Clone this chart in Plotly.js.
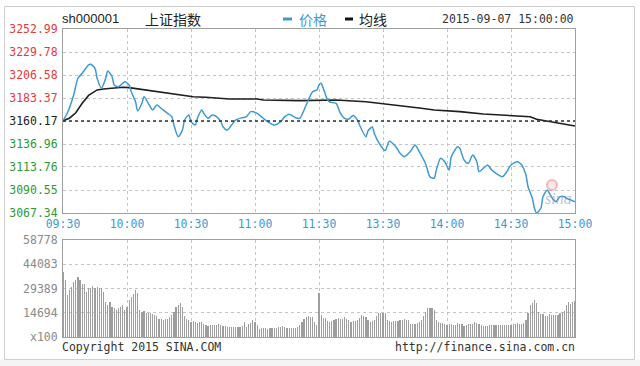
<!DOCTYPE html>
<html>
<head>
<meta charset="utf-8">
<script src="https://cdn.plot.ly/plotly-3.0.1.min.js"></script>
<style>html,body{margin:0;padding:0;background:#fff;}#chart{width:640px;height:366px;}</style>
</head>
<body>
<div id="chart"></div>
<script>
// ---------- data ----------
var prevClose = 3160.17;
var priceTicks = [3252.99, 3229.78, 3206.58, 3183.37, 3160.17, 3136.96, 3113.76, 3090.55, 3067.34];
var pctTicks = ["+2.94%", "+2.20%", "+1.47%", "+0.73%", "0.00%", "-0.73%", "-1.47%", "-2.20%", "-2.94%"];
var volTicks = [0, 14694, 29389, 44083, 58778];
var volTickText = ["x100", "14694", "29389", "44083", "58778"];
var timeTickLabels = ["09:30", "10:00", "10:30", "11:00", "11:30", "13:30", "14:00", "14:30", "15:00"];

var priceTimes = ["09:30","09:32","09:35","09:37","09:39","09:42","09:43","09:45","09:46","09:48","09:50","09:51","09:53","09:54","09:56","09:58","09:59","10:01","10:02","10:04","10:05","10:07","10:08","10:10","10:12","10:14","10:16","10:19","10:21","10:22","10:24","10:26","10:27","10:29","10:30","10:32","10:33","10:35","10:36","10:38","10:40","10:42","10:44","10:45","10:47","10:49","10:51","10:54","10:56","10:58","11:01","11:03","11:06","11:09","11:12","11:14","11:16","11:19","11:21","11:23","11:25","11:27","11:29","11:30","13:01","13:02","13:04","13:05","13:08","13:10","13:12","13:14","13:16","13:18","13:19","13:22","13:23","13:25","13:26","13:29","13:31","13:33","13:36","13:38","13:40","13:43","13:45","13:47","13:50","13:52","13:54","13:55","13:57","13:59","14:01","14:02","14:05","14:06","14:08","14:10","14:12","14:14","14:15","14:17","14:19","14:21","14:23","14:26","14:28","14:30","14:33","14:35","14:37","14:38","14:40","14:41","14:42","14:44","14:45","14:47","14:48","14:50","14:51","14:53","14:55","14:56","14:58","15:00"];
var prices = [3160.5,3168.0,3186.4,3203.3,3208.3,3216.7,3217.4,3213.3,3203.3,3193.2,3203.3,3210.6,3204.9,3196.5,3194.8,3198.2,3199.8,3196.5,3189.7,3179.6,3170.3,3178.0,3184.7,3178.0,3171.3,3176.3,3173.0,3167.9,3164.5,3156.1,3144.3,3151.0,3161.2,3166.2,3159.5,3156.1,3162.9,3171.3,3167.9,3162.9,3166.2,3164.5,3159.5,3154.4,3151.0,3156.1,3161.2,3163.5,3164.5,3169.6,3167.9,3164.5,3159.5,3156.1,3159.5,3164.5,3166.9,3163.5,3162.9,3171.3,3181.4,3189.7,3191.5,3196.5,3198.2,3193.2,3181.4,3179.3,3178.0,3168.2,3162.9,3162.2,3165.7,3161.2,3156.1,3144.3,3150.3,3154.1,3147.1,3135.0,3130.4,3139.7,3134.2,3127.6,3124.2,3129.9,3136.0,3129.2,3116.8,3104.0,3102.4,3110.7,3122.5,3118.8,3110.7,3124.2,3134.2,3132.6,3120.8,3117.5,3125.9,3119.1,3109.0,3112.4,3115.8,3110.7,3107.4,3104.0,3109.0,3115.8,3119.1,3115.8,3105.7,3093.9,3082.2,3072.1,3067.34,3072.1,3083.8,3090.6,3087.2,3080.5,3078.7,3083.8,3083.8,3082.2,3080.5,3078.7];

var avgTimes = ["09:30","09:33","09:36","09:39","09:42","09:46","09:49","09:54","09:58","10:01","10:06","10:12","10:19","10:25","10:31","10:37","10:48","11:01","11:04","11:21","11:30","13:02","13:08","13:22","13:29","13:39","13:48","13:54","14:01","14:06","14:17","14:28","14:39","14:42","14:48","15:00"];
var avgPrices = [3160.5,3163.0,3168.5,3178.0,3186.0,3191.5,3192.5,3193.2,3194.2,3193.8,3192.2,3190.4,3188.1,3186.4,3184.7,3184.1,3182.4,3182.4,3181.4,3180.7,3181.0,3181.4,3181.4,3179.6,3178.0,3175.6,3173.0,3171.3,3170.3,3169.6,3167.2,3166.2,3164.5,3161.9,3159.5,3155.1];

// per-minute volume (x100 lots), 09:30 .. 11:30, 13:01 .. 15:00
var volumes = [39600,34500,25400,28500,30500,33500,34500,36600,34500,31900,
32000,27500,29500,29500,30900,29900,30200,29900,29500,27000,
21400,19400,21400,18400,17400,16400,17800,18400,19400,16400,
17900,22400,24400,26000,28500,26500,16400,15400,15800,14700,
14300,14600,13900,13200,12700,10700,10900,10300,10700,11000,
11900,13500,15400,18400,19600,20800,18400,12700,11200,10300,
9300,9600,9300,8700,9000,9300,7900,7300,6700,7300,
7000,7300,7300,7600,7300,6900,6700,6300,6100,5900,
5900,6100,5900,6200,6700,9300,6300,7800,8700,10300,
9300,7300,4600,5300,5500,5300,5000,5300,5300,5600,
5300,5900,6200,6700,5900,5600,5300,5500,5300,5300,
6000,7300,9300,10800,11900,12700,12000,11900,8800,7300,
26500,13300,11300,11800,9900,9300,9600,10300,10900,11300,
10700,11000,12300,11200,10300,9300,9600,9900,10300,11500,
13300,12800,12300,10300,9300,9800,10300,12800,14700,14700,
14500,14300,10300,9600,9300,9900,9700,9900,10300,10500,
10700,10300,10300,7900,8000,7900,8300,9000,10300,13000,
15400,17800,17600,17400,16400,10300,9000,8700,8200,7900,
7300,7600,7900,7400,7300,8300,8000,7900,6700,7300,
7900,7600,7900,9300,8700,8000,7300,6700,6900,6700,
7000,7300,7200,7300,7300,7100,7300,7300,7400,7300,
7300,7600,7700,8300,8000,7900,8500,10300,14300,19400,
20600,22400,20800,15400,14000,13900,12700,12700,13900,13300,
13500,13300,13300,14700,15300,16000,19400,21400,20000,21400,
22000];

// ---------- helpers ----------
function minuteIndex(t) {
  var p = t.split(":"), h = +p[0], m = +p[1];
  var mins = h * 60 + m;
  if (mins <= 11 * 60 + 30) return mins - (9 * 60 + 30);
  return 120 + (mins - 13 * 60);
}
var RED = "#e23a3a", GREEN = "#2f9a2f", BLACK = "#222";
function colorFor(i) { return i < 4 ? RED : (i === 4 ? BLACK : GREEN); }
function span(txt, c) { return '<span style="color:' + c + '">' + txt + '</span>'; }

var priceX = priceTimes.map(minuteIndex);
var avgX = avgTimes.map(minuteIndex);
var volX = volumes.map(function (_, i) { return i; });
var timeTickVals = timeTickLabels.map(minuteIndex);
var leftText = priceTicks.map(function (v, i) { return span(v.toFixed(2), colorFor(i)); });
var rightText = pctTicks.map(function (v, i) { return span(v, colorFor(i)); });

var MONO = "DejaVu Sans Mono, Liberation Mono, monospace";
var BLUE = "#3d9ad2";
var GRID = "#c4c4c4";
var FRAME = "#a0a0a0";

// ---------- traces ----------
var traces = [
  {x: volX, y: volumes, type: "bar", xaxis: "x2", yaxis: "y3",
   marker: {color: "#9e9e9e", line: {width: 0}}, width: 0.55, hoverinfo: "skip"},
  {x: avgX, y: avgPrices, type: "scatter", mode: "lines", xaxis: "x", yaxis: "y",
   line: {color: "#1e1e1e", width: 1.6}, hoverinfo: "skip"},
  {x: priceX, y: prices, type: "scatter", mode: "lines", xaxis: "x", yaxis: "y",
   line: {color: BLUE, width: 1.5, shape: "spline", smoothing: 0.7}, hoverinfo: "skip"}
];

// pixel -> paper helpers (plot area: x 63..575, y 29..337)
function px(x) { return (x - 63) / 512; }
function py(y) { return (337 - y) / 308; }

var axisCommon = {
  showgrid: true, gridcolor: GRID, griddash: "dot", gridwidth: 1,
  showline: true, linecolor: FRAME, linewidth: 1, mirror: true,
  zeroline: false, ticks: "", fixedrange: true
};

var layout = {
  width: 640, height: 366,
  margin: {l: 63, r: 65, t: 29, b: 29, pad: 0},
  paper_bgcolor: "#ffffff", plot_bgcolor: "#ffffff",
  showlegend: false, bargap: 0,
  xaxis: Object.assign({}, axisCommon, {
    domain: [0, 1], anchor: "y", range: [0, 240],
    tickmode: "array", tickvals: timeTickVals, ticktext: timeTickLabels,
    tickfont: {family: MONO, size: 11.5, color: BLUE}
  }),
  yaxis: Object.assign({}, axisCommon, {
    domain: [py(213), 1], anchor: "x", range: [priceTicks[8], priceTicks[0]],
    tickmode: "array", tickvals: priceTicks, ticktext: leftText,
    tickfont: {family: MONO, size: 11.5, color: BLACK}, ticklabelstandoff: 2
  }),
  yaxis2: {
    overlaying: "y", side: "right", anchor: "x", range: [priceTicks[8], priceTicks[0]],
    tickmode: "array", tickvals: priceTicks, ticktext: rightText,
    tickfont: {family: MONO, size: 11.5, color: BLACK},
    showgrid: false, zeroline: false, showline: false, ticks: "", ticklabelstandoff: 2, fixedrange: true
  },
  xaxis2: Object.assign({}, axisCommon, {
    domain: [0, 1], anchor: "y3", range: [0, 240],
    tickmode: "array", tickvals: timeTickVals, showticklabels: false
  }),
  yaxis3: Object.assign({}, axisCommon, {
    domain: [0, py(240)], anchor: "x2", range: [0, volTicks[4]],
    tickmode: "array", tickvals: volTicks, ticktext: volTickText,
    tickfont: {family: MONO, size: 11.5, color: "#8a8a8a"}, ticklabelstandoff: 2
  }),
  shapes: [
    {type: "rect", xref: "paper", yref: "paper", x0: px(0), x1: px(640), y0: py(366), y1: py(359.5),
     fillcolor: "#f4f4f4", line: {width: 0}, layer: "below"},
    {type: "rect", xref: "paper", yref: "paper", x0: px(4.5), x1: px(634.5), y0: py(359.5), y1: py(6.5),
     line: {color: "#cfcfcf", width: 1}, fillcolor: "rgba(0,0,0,0)", layer: "below"},
    {type: "line", xref: "x", yref: "y", x0: 0, x1: 240, y0: prevClose, y1: prevClose,
     line: {color: "#333", width: 1.5, dash: "dot"}},
    {type: "line", xref: "paper", yref: "paper", x0: px(283), x1: px(292), y0: py(19), y1: py(19),
     line: {color: BLUE, width: 3}},
    {type: "line", xref: "paper", yref: "paper", x0: px(345), x1: px(353), y0: py(19), y1: py(19),
     line: {color: "#111", width: 3}},
    {type: "circle", xref: "paper", yref: "paper", x0: px(547), x1: px(557), y0: py(190), y1: py(180),
     line: {color: "rgba(240,130,140,0.55)", width: 2}, fillcolor: "rgba(250,190,195,0.35)"}
  ],
  annotations: [
    {text: "sh000001", xref: "paper", yref: "paper", x: px(60), y: py(19), xanchor: "left", yanchor: "middle",
     showarrow: false, font: {family: "Liberation Sans, Arial, sans-serif", size: 13, color: "#222"}},
    {text: "上证指数", xref: "paper", yref: "paper", x: px(143), y: py(19), xanchor: "left", yanchor: "middle",
     showarrow: false, font: {family: "Noto Sans CJK SC", size: 14, color: "#222"}},
    {text: "价格", xref: "paper", yref: "paper", x: px(297), y: py(19), xanchor: "left", yanchor: "middle",
     showarrow: false, font: {family: "Noto Sans CJK SC", size: 14, color: BLUE}},
    {text: "均线", xref: "paper", yref: "paper", x: px(357), y: py(19), xanchor: "left", yanchor: "middle",
     showarrow: false, font: {family: "Noto Sans CJK SC", size: 14, color: "#222"}},
    {text: "2015-09-07 15:00:00", xref: "paper", yref: "paper", x: px(440), y: py(19), xanchor: "left", yanchor: "middle",
     showarrow: false, font: {family: MONO, size: 11.5, color: "#333"}},
    {text: "Copyright 2015 SINA.COM", xref: "paper", yref: "paper", x: px(60), y: py(347), xanchor: "left", yanchor: "middle",
     showarrow: false, font: {family: MONO, size: 11.5, color: "#333"}},
    {text: "http://finance.sina.com.cn", xref: "paper", yref: "paper", x: px(577), y: py(347), xanchor: "right", yanchor: "middle",
     showarrow: false, font: {family: MONO, size: 11.5, color: "#333"}},
    {text: "<i>sina</i>", xref: "paper", yref: "paper", x: px(558), y: py(198), xanchor: "center", yanchor: "middle",
     showarrow: false, font: {family: "Liberation Serif, serif", size: 16, color: "rgba(130,140,185,0.55)"}}
  ]
};

Plotly.newPlot("chart", traces, layout, {staticPlot: true, displayModeBar: false});
</script>
</body>
</html>
